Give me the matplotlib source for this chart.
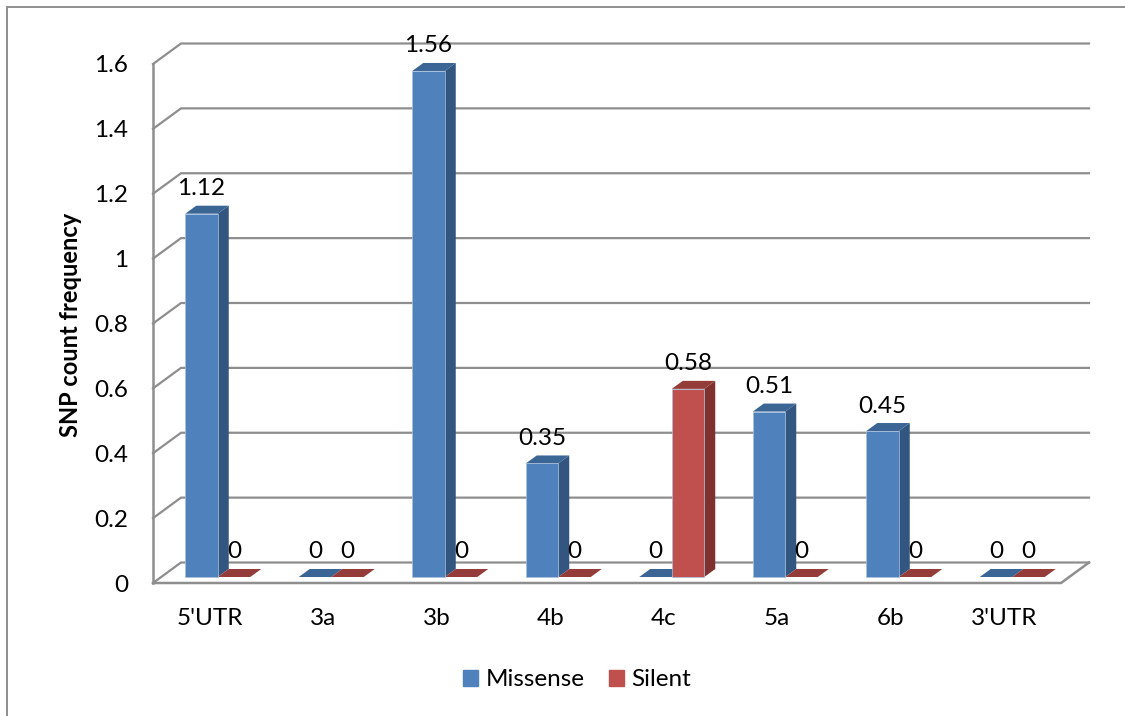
import matplotlib
matplotlib.use("Agg")
import matplotlib.pyplot as plt
from matplotlib.lines import Line2D
from matplotlib.patches import Patch, Polygon

plt.rcParams["font.family"] = ["Lato", "DejaVu Sans"]

categories = ["5'UTR", "3a", "3b", "4b", "4c", "5a", "6b", "3'UTR"]
missense = [1.12, 0, 1.56, 0.35, 0, 0.51, 0.45, 0]
silent = [0, 0, 0, 0, 0.58, 0, 0, 0]
y_ticks = [0, 0.2, 0.4, 0.6, 0.8, 1, 1.2, 1.4, 1.6]
y_tick_labels = ["0", "0.2", "0.4", "0.6", "0.8", "1", "1.2", "1.4", "1.6"]

W, H = 1125, 716
GREY = "#8e8e8e"
TXT = 17.5

# front plane of the fake 3d box, in pixels
left, right, top, bottom = 153, 1061, 64, 583
fig = plt.figure(figsize=(W / 100, H / 100), dpi=100)
ax = fig.add_axes([left / W, 1 - bottom / H, (right - left) / W, (bottom - top) / H])
ax.set_xlim(-0.5, 7.5)
ax.set_ylim(0, 1.6)

# pixels -> data units
px_x = 8 / (right - left)
px_y = 1.6 / (bottom - top)

# box depth
wall_dx, wall_dy = 28 * px_x, 20.5 * px_y
for t in y_ticks:
    ax.plot([-0.5, -0.5 + wall_dx, 7.5 + wall_dx], [t, t + wall_dy, t + wall_dy],
            color=GREY, lw=1.6, clip_on=False, zorder=1, solid_joinstyle="miter")
ax.plot([-0.5, -0.5], [0, 1.6], color=GREY, lw=1.8, clip_on=False, zorder=1)
ax.plot([-0.5, 7.5, 7.5 + wall_dx], [0, 0, wall_dy], color=GREY, lw=1.8, clip_on=False, zorder=1)

# bar offset from the front of the box and depth of each bar
bar_w = 32.5 * px_x
shift_x, floor = 8 * px_x, 6 * px_y
depth_x, depth_y = 11 * px_x, 8 * px_y


def draw_bar(x, value, front, side, lid):
    x0 = x + shift_x - bar_w if front == "#4f81bd" else x + shift_x
    x1 = x0 + bar_w
    y0, y1 = floor, floor + value
    ax.add_patch(Polygon([(x1, y0), (x1 + depth_x, y0 + depth_y),
                          (x1 + depth_x, y1 + depth_y), (x1, y1)],
                         fc=side, ec="none", zorder=3, clip_on=False))
    ax.add_patch(Polygon([(x0, y1), (x1, y1), (x1 + depth_x, y1 + depth_y),
                          (x0 + depth_x, y1 + depth_y)],
                         fc=lid, ec="none", zorder=3, clip_on=False))
    if value > 0:
        ax.bar(x0, value, width=bar_w, bottom=y0, align="edge", color=front,
               edgecolor="#a9c1de", linewidth=0.5, zorder=4, clip_on=False)
    ax.annotate(f"{value:g}", xy=((x0 + x1) / 2, y1), xytext=(0, 25),
                textcoords="offset pixels", ha="center", va="center",
                fontsize=TXT, color="black", zorder=6, annotation_clip=False)


for i in range(len(categories)):
    draw_bar(i, missense[i], "#4f81bd", "#335680", "#3a6595")
    draw_bar(i, silent[i], "#c0504d", "#7f312f", "#943c3a")

ax.set_xticks(range(len(categories)))
ax.set_xticklabels(categories, fontsize=TXT)
ax.set_yticks(y_ticks)
ax.set_yticklabels(y_tick_labels, fontsize=TXT)
ax.tick_params(axis="x", length=0, pad=18)
ax.tick_params(axis="y", length=0, pad=18)
for s in ax.spines.values():
    s.set_visible(False)
ax.patch.set_alpha(0)

fig.text(71 / W, 1 - 325 / H, "SNP count frequency", rotation=90, ha="center", va="center",
         fontsize=17, fontweight="bold")

handles = [Patch(color="#4f81bd", label="Missense"), Patch(color="#c0504d", label="Silent")]
fig.legend(handles=handles, loc="center", bbox_to_anchor=(577 / W, 1 - 680 / H), ncol=2, frameon=False,
           fontsize=TXT, handlelength=0.62, handleheight=0.62, handletextpad=0.3, columnspacing=1.0,
           borderpad=0, borderaxespad=0)

# chart border, only top and left show in the crop
fig.add_artist(Line2D([7 / W, 7 / W, 1], [0, 1 - 7 / H, 1 - 7 / H], transform=fig.transFigure,
                      color=GREY, lw=1.4, solid_joinstyle="miter"))

fig.savefig("out.png", dpi=100, facecolor="white")
